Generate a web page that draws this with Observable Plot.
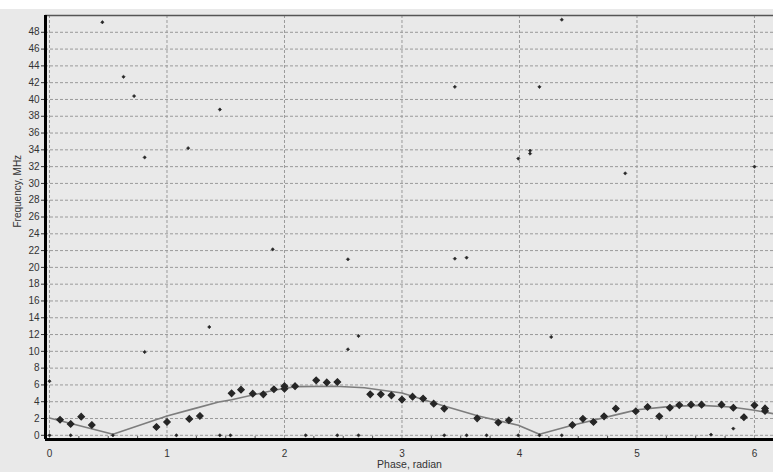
<!DOCTYPE html>
<html>
<head>
<meta charset="utf-8">
<script src="https://cdn.jsdelivr.net/npm/d3@7"></script>
<script src="https://cdn.jsdelivr.net/npm/@observablehq/plot@0.6"></script>
<style>
  html, body { margin: 0; padding: 0; background: #ffffff; }
  #chart { padding-top: 9px; width: 773px; }
  #chart svg { display: block; }
</style>
</head>
<body>
<div id="chart"></div>
<script>
// ---- data ----
const xTicks = [0, 1, 2, 3, 4, 5, 6];
const yTicks = [0, 2, 4, 6, 8, 10, 12, 14, 16, 18, 20, 22, 24, 26, 28, 30, 32, 34, 36, 38, 40, 42, 44, 46, 48];
const xMinorTicks = [0.25, 0.5, 0.75, 1.25, 1.5, 1.75, 2.25, 2.5, 2.75, 3.25, 3.5, 3.75, 4.25, 4.5, 4.75, 5.25, 5.5, 5.75, 6.25];

// fitted curve (gray line)
const curvePhase = [0, 0.54, 1.0, 1.2, 1.44, 1.55, 1.91, 2.01, 2.1, 2.43, 2.68, 3.0, 3.33, 3.65, 3.99, 4.17, 4.45, 4.9, 5.0, 5.29, 5.54, 5.8, 6.0, 6.17];
const curveFreq  = [2.06, 0.12, 2.3, 3.06, 3.97, 4.24, 5.36, 5.6, 5.8, 5.85, 5.67, 5.04, 3.6, 2.3, 1.19, 0.12, 1.19, 2.7, 3.05, 3.45, 3.57, 3.37, 2.98, 2.55];

// large markers
const bigPhase = [0.09, 0.18, 0.27, 0.36, 0.91, 1.0, 1.19, 1.28, 1.55, 1.63, 1.73, 1.82, 1.91, 2.0, 2.0, 2.09, 2.27, 2.36, 2.45, 2.73, 2.82, 2.91, 3.0, 3.09, 3.18, 3.27, 3.36, 3.64, 3.82, 3.91, 4.45, 4.54, 4.63, 4.72, 4.82, 4.99, 5.09, 5.19, 5.28, 5.36, 5.46, 5.55, 5.72, 5.82, 5.91, 6.0, 6.09, 6.09];
const bigFreq  = [1.85, 1.35, 2.22, 1.23, 0.99, 1.59, 1.95, 2.3, 5.0, 5.44, 4.96, 4.88, 5.48, 5.85, 5.55, 5.85, 6.55, 6.3, 6.35, 4.88, 4.88, 4.76, 4.25, 4.6, 4.37, 3.77, 3.18, 2.02, 1.53, 1.79, 1.23, 1.96, 1.59, 2.26, 3.18, 2.86, 3.37, 2.26, 3.28, 3.6, 3.65, 3.65, 3.65, 3.28, 2.15, 3.57, 3.2, 2.9];

// small markers
const smallPhase = [0.0, 0.18, 0.54, 1.08, 1.45, 1.54, 2.18, 2.45, 2.63, 3.36, 3.55, 3.72, 3.99, 4.17, 4.36, 5.63,
                    0.0, 0.45, 0.63, 0.72, 0.81, 0.81, 1.18, 1.36, 1.45, 1.90, 2.54, 2.54, 2.63, 3.45, 3.55, 3.45, 3.99, 4.09, 4.09, 4.17, 4.27, 4.36, 4.9, 6.0, 5.82];
const smallFreq  = [0, 0, 0, 0, 0, 0, 0, 0, 0, 0, 0, 0, 0, 0, 0, 0.08,
                    6.45, 49.2, 42.7, 40.4, 33.1, 9.92, 34.2, 12.9, 38.8, 22.15, 20.96, 10.24, 11.83, 21.04, 21.16, 41.5, 32.96, 33.9, 33.55, 41.5, 11.71, 49.5, 31.2, 32.0, 0.8];

// ---- build tables ----
const curve = curvePhase.map((x, i) => ({x, y: curveFreq[i]}));
const big = bigPhase.map((x, i) => ({x, y: bigFreq[i]}));
const small = smallPhase.map((x, i) => ({x, y: smallFreq[i]}));

const xDomain = [-0.034, 6.162];
const yDomain = [-0.5, 50];

const chart = Plot.plot({
  width: 773,
  height: 463,
  marginLeft: 45,
  marginRight: 0,
  marginTop: 6,
  marginBottom: 33,
  style: {
    background: "#e9e9e9",
    fontFamily: "'Liberation Sans', Arial, sans-serif",
    fontSize: "10px",
    color: "#333"
  },
  x: {domain: xDomain, ticks: xTicks, tickSize: 0, tickPadding: 10, tickFormat: d3.format("d"), label: null},
  y: {domain: yDomain, ticks: yTicks, tickSize: 4, tickPadding: 2, tickFormat: d3.format("d"), label: null},
  marks: [
    Plot.ruleY(yTicks, {stroke: "#9a9a9a", strokeWidth: 1, strokeDasharray: "3,2"}),
    Plot.ruleX(xTicks, {stroke: "#9a9a9a", strokeWidth: 1, strokeDasharray: "3,2"}),
    Plot.ruleX(xMinorTicks, {y1: -0.5, y2: -0.15, stroke: "#555", strokeWidth: 1}),
    Plot.line(curve, {x: "x", y: "y", stroke: "#7d7d7d", strokeWidth: 1.6}),
    Plot.dot(small, {x: "x", y: "y", symbol: "diamond2", fill: "#262626", stroke: "#262626", strokeWidth: 0.6, r: 1.5}),
    Plot.dot(big, {x: "x", y: "y", symbol: "diamond2", fill: "#262626", stroke: "#262626", strokeWidth: 1.2, r: 2.9}),
    Plot.ruleY([yDomain[1]], {stroke: "#555", strokeWidth: 1.5}),
    Plot.ruleY([yDomain[0]], {stroke: "#000", strokeWidth: 3}),
    Plot.ruleX([xDomain[0]], {stroke: "#000", strokeWidth: 3}),
    Plot.text(["Frequency, MHz"], {frameAnchor: "left", dx: -28, rotate: -90, fontSize: 10, fill: "#333"}),
    Plot.text(["Phase, radian"], {frameAnchor: "bottom", dy: 28, fontSize: 10.5, fill: "#333"})
  ]
});

document.getElementById("chart").appendChild(chart);
</script>
</body>
</html>
